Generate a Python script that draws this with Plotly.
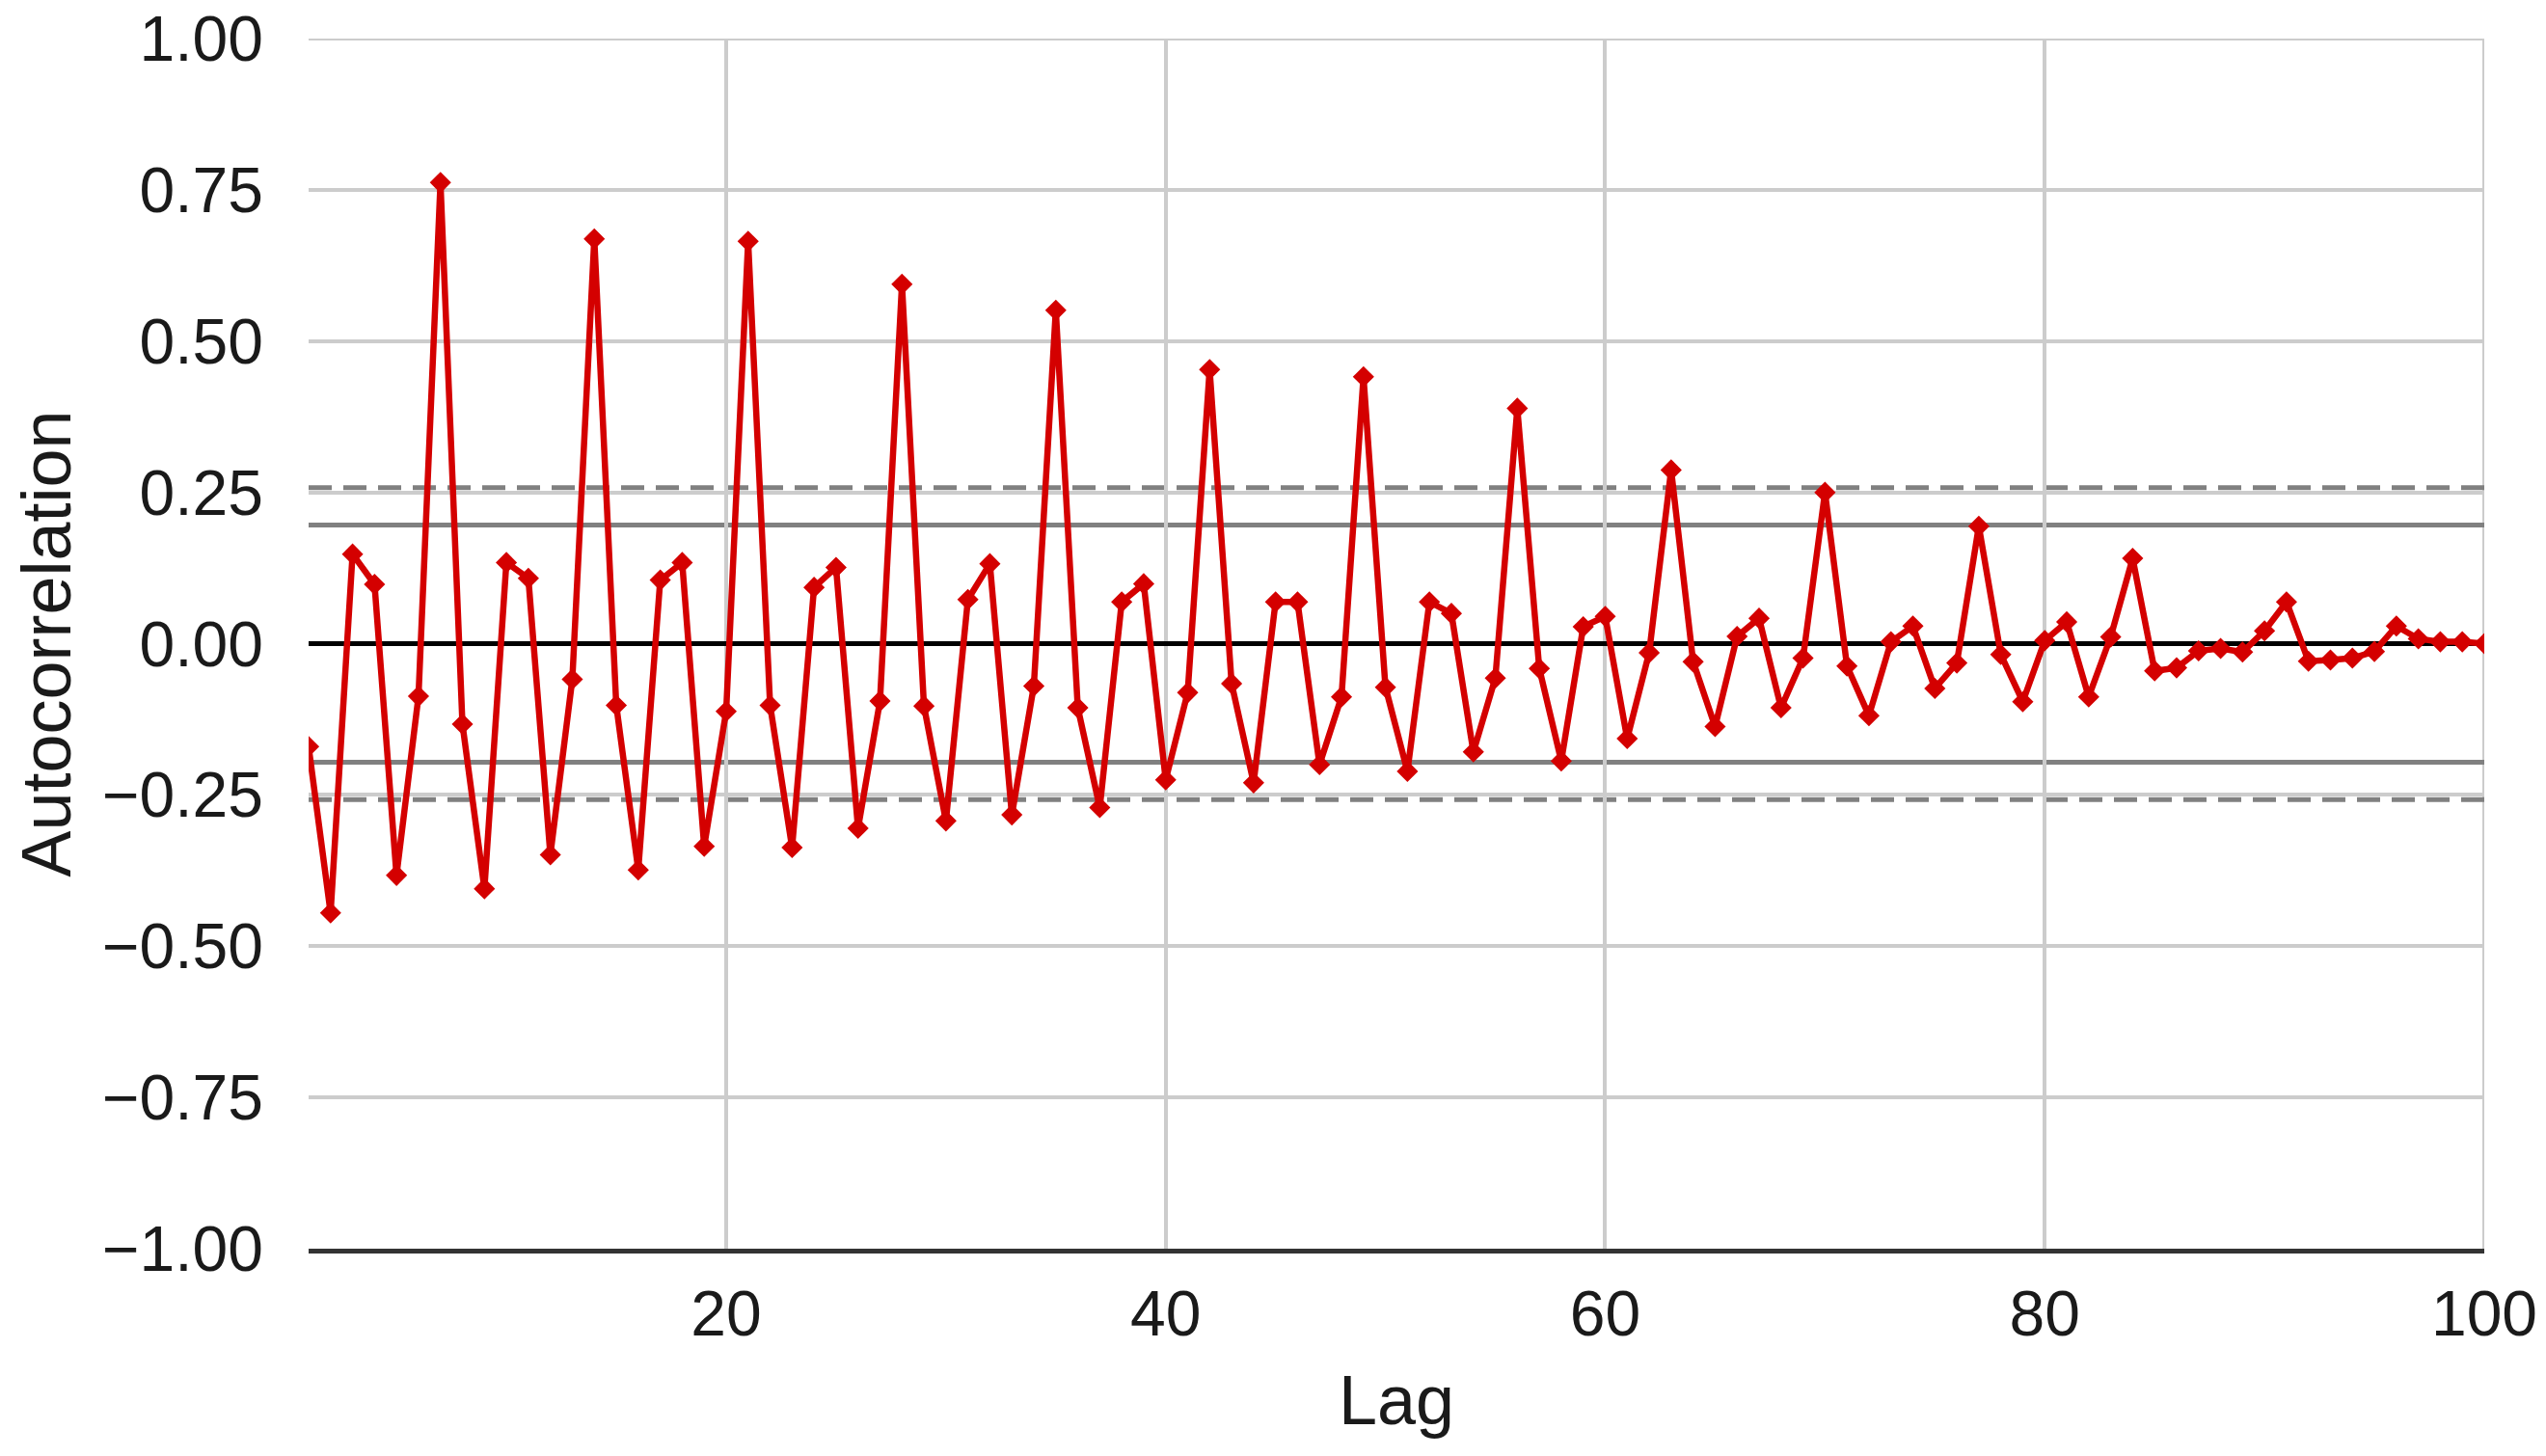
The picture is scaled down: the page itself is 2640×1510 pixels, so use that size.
import plotly.graph_objects as go

# autocorrelation per lag (lags 1..100)
lags = list(range(1, 101))
acf = [
    -0.17, -0.445, 0.148, 0.098, -0.383, -0.087, 0.762, -0.133, -0.405, 0.134,
    0.108, -0.349, -0.059, 0.669, -0.102, -0.374, 0.105, 0.134, -0.335, -0.112,
    0.665, -0.102, -0.337, 0.093, 0.126, -0.305, -0.095, 0.594, -0.103, -0.293,
    0.073, 0.132, -0.283, -0.070, 0.551, -0.106, -0.271, 0.069, 0.099, -0.225,
    -0.081, 0.453, -0.066, -0.230, 0.069, 0.069, -0.200, -0.088, 0.441, -0.072,
    -0.211, 0.069, 0.050, -0.179, -0.057, 0.389, -0.041, -0.194, 0.028, 0.045,
    -0.157, -0.015, 0.287, -0.030, -0.137, 0.012, 0.042, -0.106, -0.024, 0.250,
    -0.037, -0.119, 0.003, 0.029, -0.074, -0.032, 0.194, -0.018, -0.096, 0.005,
    0.036, -0.088, 0.011, 0.141, -0.045, -0.040, -0.012, -0.008, -0.014, 0.021,
    0.069, -0.029, -0.027, -0.024, -0.013, 0.029, 0.008, 0.003, 0.003, 0.0,
]

n_obs = 100
z95 = 1.959963984540054
z99 = 2.5758293035489

y_ticks = [-1.0, -0.75, -0.5, -0.25, 0.0, 0.25, 0.5, 0.75, 1.0]
x_ticks = [20, 40, 60, 80, 100]

fig = go.Figure()

# plotly skips grid lines sitting on the range edge, draw them by hand
fig.add_hline(y=y_ticks[-1], line_color='#cccccc', line_width=4, layer='below')
fig.add_vline(x=x_ticks[-1], line_color='#cccccc', line_width=4, layer='below')

# confidence bands like pandas.plotting.autocorrelation_plot
for z, dash in [(z95, 'solid'), (z99, '24px,12px')]:
    for sign in (1, -1):
        fig.add_hline(y=sign * z / n_obs ** 0.5, line_color='#808080',
                      line_width=5, line_dash=dash, layer='below')

fig.add_trace(go.Scatter(
    x=lags, y=acf, mode='lines+markers',
    line=dict(color='#d40000', width=6.5),
    marker=dict(symbol='diamond', size=17, color='#d40000'),
    showlegend=False,
))

fig.update_layout(
    width=2640, height=1510,
    margin=dict(l=312, r=72, t=32, b=223),
    plot_bgcolor='white', paper_bgcolor='white',
    font=dict(family='Liberation Sans, Arial, sans-serif', size=66, color='#1a1a1a'),
    xaxis=dict(
        title=dict(text='Lag', font=dict(size=72), standoff=30),
        range=[1, 100], tickvals=x_ticks,
        showgrid=True, gridcolor='#cccccc', gridwidth=4,
        zeroline=False,
        showline=True, linecolor='#333333', linewidth=5,
        ticks='', ticklabelstandoff=6, automargin=False,
        ticklabeloverflow='allow',
    ),
    yaxis=dict(
        title=dict(text='Autocorrelation', font=dict(size=72), standoff=41),
        range=[-1, 1], tickvals=y_ticks, tickformat='.2f',
        showgrid=True, gridcolor='#cccccc', gridwidth=4,
        zeroline=True, zerolinecolor='black', zerolinewidth=5,
        showline=False, ticks='', ticklabelstandoff=46, automargin=False,
        ticklabeloverflow='allow',
    ),
)

fig.write_html("out.html")
